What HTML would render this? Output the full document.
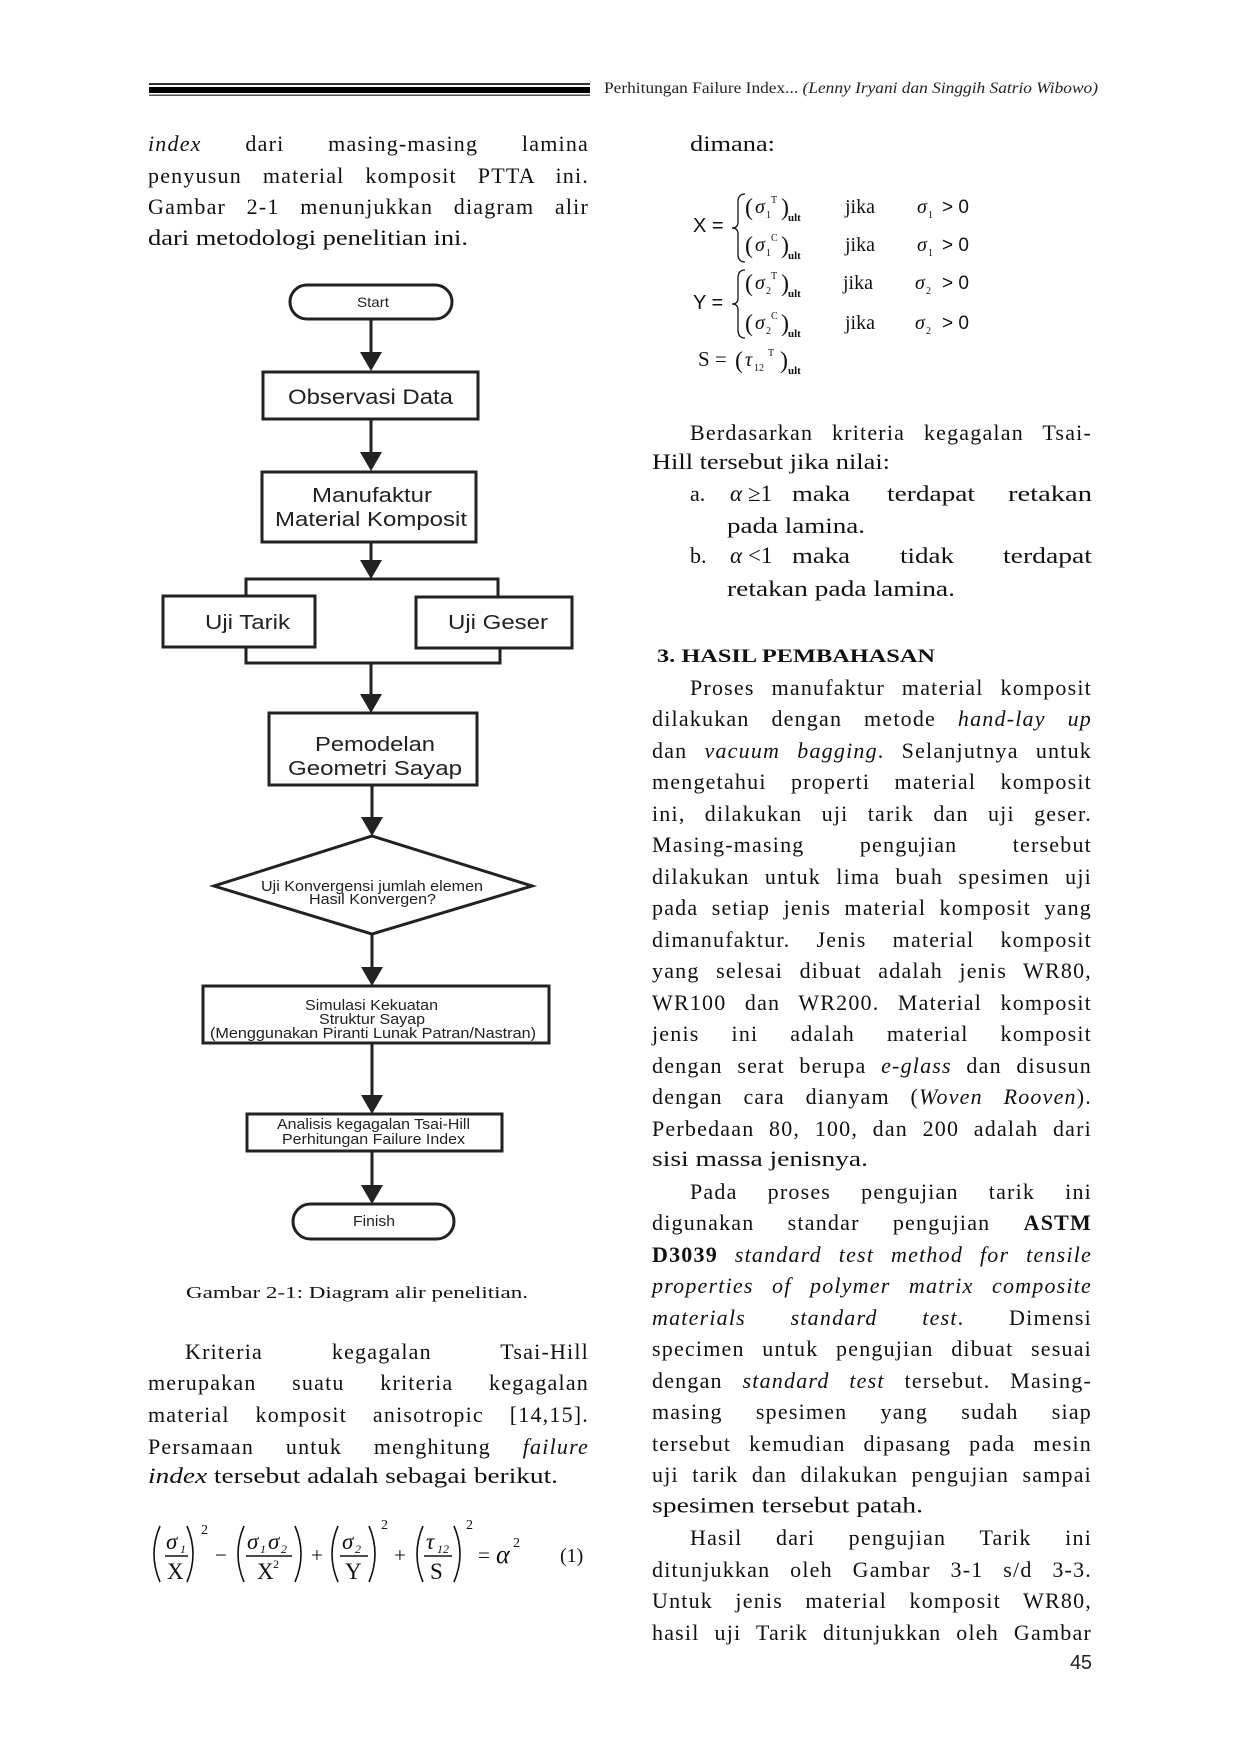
<!DOCTYPE html>
<html><head><meta charset="utf-8">
<style>
html,body{margin:0;padding:0;background:#fff;}
#pg{position:relative;width:1240px;height:1754px;overflow:hidden;background:#fff;}
svg{position:absolute;left:0;top:0;}
.j{position:absolute;height:24px;line-height:24px;font:22px "Liberation Serif",serif;letter-spacing:1.2px;color:#111;text-align:justify;text-align-last:justify;white-space:nowrap;}
.L{left:148px;width:441px;}
.LI{left:185px;width:404px;}
.R{left:652px;width:440px;}
.RI{left:690px;width:402px;}
</style></head><body><div id="pg">
<svg width="1240" height="1754" viewBox="0 0 1240 1754" xmlns="http://www.w3.org/2000/svg">
<rect x="149" y="83" width="441" height="2" fill="#333"/>
<rect x="149" y="87" width="441" height="6" fill="#000"/>
<rect x="149" y="94.5" width="441" height="1.5" fill="#555"/>
<text x="604" y="93" font-family="Liberation Serif" font-size="15.5" fill="#222" textLength="494" lengthAdjust="spacingAndGlyphs">Perhitungan Failure Index... <tspan font-style="italic">(Lenny Iryani dan Singgih Satrio Wibowo)</tspan></text>

<g fill="none" stroke="#222" stroke-width="3">
<rect x="290" y="285" width="162" height="34" rx="17"/>
<rect x="263" y="372" width="215" height="47"/>
<rect x="262" y="472" width="214" height="70"/>
<rect x="163" y="596" width="152" height="51"/>
<rect x="416" y="597" width="156" height="51"/>
<polyline points="246,596 246,579 498,579 498,597"/>
<polyline points="246,647 246,663 500,663 500,648"/>
<rect x="269" y="713" width="208" height="72"/>
<polygon points="372,836 532,886 372,934 214,886"/>
<rect x="203" y="986" width="346" height="57"/>
<rect x="247" y="1114" width="255" height="37"/>
<rect x="293" y="1204" width="161" height="35" rx="17.5"/>
<line x1="371" y1="319" x2="371" y2="354"/>
<line x1="371" y1="419" x2="371" y2="454"/>
<line x1="371" y1="542" x2="371" y2="562"/>
<line x1="371" y1="664" x2="371" y2="697"/>
<line x1="372" y1="785" x2="372" y2="819"/>
<line x1="372" y1="934" x2="372" y2="969"/>
<line x1="372" y1="1043" x2="372" y2="1097"/>
<line x1="372" y1="1151" x2="372" y2="1187"/>
</g>
<g fill="#222">
<polygon points="360,352 382,352 371,371"/>
<polygon points="360,452 382,452 371,471"/>
<polygon points="360,560 382,560 371,579"/>
<polygon points="360,694 382,694 371,713"/>
<polygon points="361,817 383,817 372,836"/>
<polygon points="361,967 383,967 372,986"/>
<polygon points="361,1095 383,1095 372,1114"/>
<polygon points="361,1185 383,1185 372,1204"/>
</g>
<g font-family="Liberation Sans" fill="#222">
<text x="357" y="307" font-size="14" textLength="32" lengthAdjust="spacingAndGlyphs">Start</text>
<text x="288" y="404" font-size="21" textLength="165" lengthAdjust="spacingAndGlyphs">Observasi Data</text>
<text x="312" y="502" font-size="20" textLength="120" lengthAdjust="spacingAndGlyphs">Manufaktur</text>
<text x="275" y="526" font-size="20" textLength="192" lengthAdjust="spacingAndGlyphs">Material Komposit</text>
<text x="205" y="629" font-size="20" textLength="85" lengthAdjust="spacingAndGlyphs">Uji Tarik</text>
<text x="448" y="629" font-size="20" textLength="100" lengthAdjust="spacingAndGlyphs">Uji Geser</text>
<text x="315" y="751" font-size="20" textLength="120" lengthAdjust="spacingAndGlyphs">Pemodelan</text>
<text x="288" y="775" font-size="20" textLength="174" lengthAdjust="spacingAndGlyphs">Geometri Sayap</text>
<text x="261" y="891" font-size="14.5" textLength="222" lengthAdjust="spacingAndGlyphs">Uji Konvergensi jumlah elemen</text>
<text x="309" y="904" font-size="14.5" textLength="127" lengthAdjust="spacingAndGlyphs">Hasil Konvergen?</text>
<text x="305" y="1010" font-size="14.5" textLength="133" lengthAdjust="spacingAndGlyphs">Simulasi Kekuatan</text>
<text x="319" y="1024" font-size="14.5" textLength="106" lengthAdjust="spacingAndGlyphs">Struktur Sayap</text>
<text x="210" y="1038" font-size="14.5" textLength="326" lengthAdjust="spacingAndGlyphs">(Menggunakan Piranti Lunak Patran/Nastran)</text>
<text x="277" y="1129" font-size="14.5" textLength="193" lengthAdjust="spacingAndGlyphs">Analisis kegagalan Tsai-Hill</text>
<text x="282" y="1144" font-size="14.5" textLength="183" lengthAdjust="spacingAndGlyphs">Perhitungan Failure Index</text>
<text x="353" y="1226" font-size="14.5" textLength="42" lengthAdjust="spacingAndGlyphs">Finish</text>
</g>

<g font-family="Liberation Serif" font-size="22" fill="#111">
<text x="148" y="245" textLength="320" lengthAdjust="spacingAndGlyphs">dari metodologi penelitian ini.</text>
<text x="186" y="1298" font-size="17" textLength="342" lengthAdjust="spacingAndGlyphs">Gambar 2-1: Diagram alir penelitian.</text>
<text x="148" y="1483" textLength="410" lengthAdjust="spacingAndGlyphs"><tspan font-style="italic">index</tspan> tersebut adalah sebagai berikut.</text>
<text x="690" y="151" textLength="85" lengthAdjust="spacingAndGlyphs">dimana:</text>
<text x="652" y="469" textLength="238" lengthAdjust="spacingAndGlyphs">Hill tersebut jika nilai:</text>
<text x="690" y="501">a.</text>
<text x="730" y="501" font-style="italic" font-size="23">α</text>
<text x="748" y="501" font-size="23">≥1</text>
<text x="792" y="501" textLength="58" lengthAdjust="spacingAndGlyphs">maka</text>
<text x="887" y="501" textLength="88" lengthAdjust="spacingAndGlyphs">terdapat</text>
<text x="1008" y="501" textLength="84" lengthAdjust="spacingAndGlyphs">retakan</text>
<text x="727" y="533" textLength="138" lengthAdjust="spacingAndGlyphs">pada lamina.</text>
<text x="690" y="563">b.</text>
<text x="730" y="563" font-style="italic" font-size="23">α</text>
<text x="748" y="563" font-size="23">&lt;1</text>
<text x="792" y="563" textLength="58" lengthAdjust="spacingAndGlyphs">maka</text>
<text x="900" y="563" textLength="54" lengthAdjust="spacingAndGlyphs">tidak</text>
<text x="1003" y="563" textLength="89" lengthAdjust="spacingAndGlyphs">terdapat</text>
<text x="727" y="596" textLength="228" lengthAdjust="spacingAndGlyphs">retakan pada lamina.</text>
<text x="657" y="662" font-weight="bold" font-size="19" textLength="278" lengthAdjust="spacingAndGlyphs">3. HASIL PEMBAHASAN</text>
<text x="652" y="1166" textLength="216" lengthAdjust="spacingAndGlyphs">sisi massa jenisnya.</text>
<text x="652" y="1512.5" textLength="271" lengthAdjust="spacingAndGlyphs">spesimen tersebut patah.</text>
</g>
<text x="1070" y="1669" font-family="Liberation Sans" font-size="20" fill="#222" textLength="22">45</text>

<g transform="translate(0,-4)">
<g fill="none" stroke="#111" stroke-width="1.6">
<path d="M160 1530 Q148 1558 160 1586"/><path d="M187 1530 Q199 1558 187 1586"/>
<path d="M244 1530 Q232 1558 244 1586"/><path d="M295 1530 Q307 1558 295 1586"/>
<path d="M338 1530 Q326 1558 338 1586"/><path d="M369 1530 Q381 1558 369 1586"/>
<path d="M423 1530 Q411 1558 423 1586"/><path d="M454 1530 Q466 1558 454 1586"/>
<line x1="165" y1="1560" x2="188" y2="1560"/>
<line x1="246" y1="1560" x2="292" y2="1560"/>
<line x1="340" y1="1560" x2="368" y2="1560"/>
<line x1="424" y1="1560" x2="452" y2="1560"/>
</g>
<g font-family="Liberation Serif" fill="#111">
<text x="201" y="1538" font-size="14">2</text>
<text x="166" y="1553" font-size="23" font-style="italic">σ</text><text x="180" y="1557" font-size="12" font-style="italic">1</text>
<text x="167" y="1583" font-size="23">X</text>
<text x="215" y="1566" font-size="21">−</text>
<text x="247" y="1553" font-size="23" font-style="italic">σ</text><text x="260" y="1557" font-size="12" font-style="italic">1</text>
<text x="268" y="1553" font-size="23" font-style="italic">σ</text><text x="281" y="1557" font-size="12" font-style="italic">2</text>
<text x="257" y="1583" font-size="23">X</text><text x="273" y="1572" font-size="12">2</text>
<text x="311" y="1566" font-size="21">+</text>
<text x="381" y="1533" font-size="14">2</text>
<text x="342" y="1553" font-size="23" font-style="italic">σ</text><text x="355" y="1557" font-size="12" font-style="italic">2</text>
<text x="345" y="1583" font-size="23">Y</text>
<text x="394" y="1566" font-size="21">+</text>
<text x="466" y="1533" font-size="14">2</text>
<text x="426" y="1553" font-size="23" font-style="italic">τ</text><text x="437" y="1557" font-size="12" font-style="italic">12</text>
<text x="430" y="1583" font-size="23">S</text>
<text x="478" y="1566" font-size="21">=</text>
<text x="496" y="1567" font-size="26" font-style="italic">α</text><text x="513" y="1551" font-size="14">2</text>
<text x="560" y="1566" font-size="20">(1)</text>
</g>
</g>

<g fill="none" stroke="#111" stroke-width="1.3">
<path d="M745 194 Q738 194 738 202 L738 222 Q738 228 732 228 Q738 228 738 234 L738 254 Q738 262 745 262"/>
<path d="M745 270 Q738 270 738 278 L738 298 Q738 304 732 304 Q738 304 738 310 L738 330 Q738 338 745 338"/>
</g>
<g font-family="Liberation Serif" fill="#111">
<text x="693" y="232" font-family="Liberation Sans" font-size="20">X =</text>
<text x="693" y="309" font-family="Liberation Sans" font-size="20">Y =</text>
<text x="745" y="215" font-size="24">(</text><text x="755" y="213" font-size="20" font-style="italic">σ</text><text x="766" y="218" font-size="10">1</text><text x="771" y="203" font-size="10">T</text><text x="781" y="215" font-size="24">)</text><text x="788" y="221" font-size="11" font-weight="bold">ult</text>
<text x="845" y="213" font-size="20">jika</text><text x="917" y="213" font-size="20" font-style="italic">σ</text><text x="928" y="218" font-size="10">1</text><text x="942" y="213" font-family="Liberation Sans" font-size="19">&gt; 0</text>
<text x="745" y="253" font-size="24">(</text><text x="755" y="251" font-size="20" font-style="italic">σ</text><text x="766" y="256" font-size="10">1</text><text x="771" y="241" font-size="10">C</text><text x="781" y="253" font-size="24">)</text><text x="788" y="259" font-size="11" font-weight="bold">ult</text>
<text x="845" y="251" font-size="20">jika</text><text x="917" y="251" font-size="20" font-style="italic">σ</text><text x="928" y="256" font-size="10">1</text><text x="942" y="251" font-family="Liberation Sans" font-size="19">&gt; 0</text>
<text x="745" y="291" font-size="24">(</text><text x="755" y="289" font-size="20" font-style="italic">σ</text><text x="766" y="294" font-size="10">2</text><text x="771" y="279" font-size="10">T</text><text x="781" y="291" font-size="24">)</text><text x="788" y="297" font-size="11" font-weight="bold">ult</text>
<text x="843" y="289" font-size="20">jika</text><text x="915" y="289" font-size="20" font-style="italic">σ</text><text x="926" y="294" font-size="10">2</text><text x="942" y="289" font-family="Liberation Sans" font-size="19">&gt; 0</text>
<text x="745" y="331" font-size="24">(</text><text x="755" y="329" font-size="20" font-style="italic">σ</text><text x="766" y="334" font-size="10">2</text><text x="771" y="319" font-size="10">C</text><text x="781" y="331" font-size="24">)</text><text x="788" y="337" font-size="11" font-weight="bold">ult</text>
<text x="845" y="329" font-size="20">jika</text><text x="915" y="329" font-size="20" font-style="italic">σ</text><text x="926" y="334" font-size="10">2</text><text x="942" y="329" font-family="Liberation Sans" font-size="19">&gt; 0</text>
<text x="698" y="366" font-size="21">S =</text>
<text x="735" y="368" font-size="24">(</text><text x="745" y="366" font-size="20" font-style="italic">τ</text><text x="754" y="371" font-size="10">12</text><text x="768" y="356" font-size="10">T</text><text x="780" y="368" font-size="24">)</text><text x="788" y="374" font-size="11" font-weight="bold">ult</text>
</g>
</svg>

<div class="j L" style="top:131px"><i>index</i> dari masing-masing lamina</div>
<div class="j L" style="top:163px">penyusun material komposit PTTA ini.</div>
<div class="j L" style="top:194px">Gambar 2-1 menunjukkan diagram alir</div>

<div class="j LI" style="top:1339px">Kriteria kegagalan Tsai-Hill</div>
<div class="j L" style="top:1370px">merupakan suatu kriteria kegagalan</div>
<div class="j L" style="top:1402px">material komposit anisotropic [14,15].</div>
<div class="j L" style="top:1434px">Persamaan untuk menghitung <i>failure</i></div>

<div class="j RI" style="top:420px">Berdasarkan kriteria kegagalan Tsai-</div>

<div class="j RI" style="top:674.5px">Proses manufaktur material komposit</div>
<div class="j R" style="top:706px">dilakukan dengan metode <i>hand-lay up</i></div>
<div class="j R" style="top:737.5px">dan <i>vacuum bagging</i>. Selanjutnya untuk</div>
<div class="j R" style="top:769px">mengetahui properti material komposit</div>
<div class="j R" style="top:800.5px">ini, dilakukan uji tarik dan uji geser.</div>
<div class="j R" style="top:832px">Masing-masing pengujian tersebut</div>
<div class="j R" style="top:863.5px">dilakukan untuk lima buah spesimen uji</div>
<div class="j R" style="top:895px">pada setiap jenis material komposit yang</div>
<div class="j R" style="top:926.5px">dimanufaktur. Jenis material komposit</div>
<div class="j R" style="top:958px">yang selesai dibuat adalah jenis WR80,</div>
<div class="j R" style="top:989.5px">WR100 dan WR200. Material komposit</div>
<div class="j R" style="top:1021px">jenis ini adalah material komposit</div>
<div class="j R" style="top:1052.5px">dengan serat berupa <i>e-glass</i> dan disusun</div>
<div class="j R" style="top:1084px">dengan cara dianyam (<i>Woven Rooven</i>).</div>
<div class="j R" style="top:1115.5px">Perbedaan 80, 100, dan 200 adalah dari</div>
<div class="j RI" style="top:1178.5px">Pada proses pengujian tarik ini</div>
<div class="j R" style="top:1210px">digunakan standar pengujian <b>ASTM</b></div>
<div class="j R" style="top:1241.5px"><b>D3039</b> <i>standard test method for tensile</i></div>
<div class="j R" style="top:1273px"><i>properties of polymer matrix composite</i></div>
<div class="j R" style="top:1304.5px"><i>materials standard test</i>. Dimensi</div>
<div class="j R" style="top:1336px">specimen untuk pengujian dibuat sesuai</div>
<div class="j R" style="top:1367.5px">dengan <i>standard test</i> tersebut. Masing-</div>
<div class="j R" style="top:1399px">masing spesimen yang sudah siap</div>
<div class="j R" style="top:1430.5px">tersebut kemudian dipasang pada mesin</div>
<div class="j R" style="top:1462px">uji tarik dan dilakukan pengujian sampai</div>
<div class="j RI" style="top:1525px">Hasil dari pengujian Tarik ini</div>
<div class="j R" style="top:1556.5px">ditunjukkan oleh Gambar 3-1 s/d 3-3.</div>
<div class="j R" style="top:1588px">Untuk jenis material komposit WR80,</div>
<div class="j R" style="top:1619.5px">hasil uji Tarik ditunjukkan oleh Gambar</div>
</div></body></html>
